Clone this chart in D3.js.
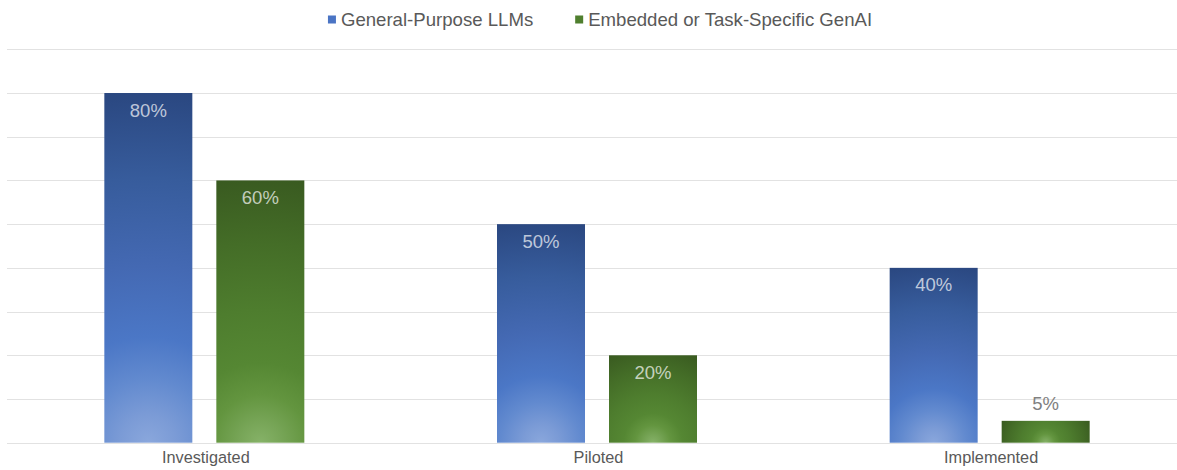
<!DOCTYPE html>
<html>
<head>
<meta charset="utf-8">
<script src="https://cdn.jsdelivr.net/npm/d3@7"></script>
<style>
  html, body { margin: 0; padding: 0; background: #ffffff; }
  svg { display: block; font-family: "Liberation Sans", Arial, sans-serif; }
</style>
</head>
<body>
<svg id="chart" width="1177" height="470"></svg>
<script>
// Adoption stage of each kind of generative AI
const categories = ["Investigated", "Piloted", "Implemented"];
const seriesNames = ["General-Purpose LLMs", "Embedded or Task-Specific GenAI"];
const generalPurpose = [80, 50, 40];
const embedded = [60, 20, 5];
const yTicks = [0, 10, 20, 30, 40, 50, 60, 70, 80, 90];

const seriesValues = [generalPurpose, embedded];
const rows = categories.map((c, i) => ({
  category: c,
  values: seriesNames.map((s, j) => ({ series: s, si: j, ci: i, value: seriesValues[j][i] }))
}));

const svg = d3.select("#chart");
const W = 1177, H = 470;
const plot = { left: 8, right: 1186, top: 49.3, bottom: 442.7 };

const x0 = d3.scaleBand().domain(categories).range([plot.left, plot.right]).padding(0);
const groupW = 200;
const x1 = d3.scaleBand().domain(seriesNames)
  .range([x0.bandwidth() / 2 - groupW / 2, x0.bandwidth() / 2 + groupW / 2])
  .paddingInner(24 / 112).paddingOuter(0);
const y = d3.scaleLinear().domain([0, 90]).range([plot.bottom, plot.top]);

// Radial fill: a circle from the bottom centre of each bar reaching its far corner.
// Coordinates are in each group's local space (bars are translated per category).
const palettes = [
  [[0, "#8aa7dc"], [0.08, "#7b9bd6"], [0.18, "#628acf"], [0.3, "#4b77c6"], [0.5, "#4469b3"], [0.75, "#375c9c"], [1, "#2a4780"]],
  [[0, "#86b268"], [0.08, "#77a557"], [0.18, "#63953f"], [0.3, "#558733"], [0.5, "#4e7d2e"], [0.75, "#446d27"], [1, "#395a20"]]
];
const legendColors = ["#4a74c4", "#4f7f2e"];
const defs = svg.append("defs");
rows.forEach(r => r.values.forEach(d => {
  const bx = x1(d.series);
  const w = x1.bandwidth();
  const h = y(0) - y(d.value);
  const g = defs.append("radialGradient")
    .attr("id", `grad-${d.si}-${d.ci}`)
    .attr("gradientUnits", "userSpaceOnUse")
    .attr("cx", bx + w / 2).attr("cy", y(0))
    .attr("fx", bx + w / 2).attr("fy", y(0))
    .attr("r", Math.hypot(w / 2, h));
  palettes[d.si].forEach(([o, c]) => g.append("stop").attr("offset", o).attr("stop-color", c));
}));

// Horizontal gridlines
svg.append("g")
  .selectAll("line")
  .data(yTicks)
  .join("line")
  .attr("x1", 7).attr("x2", W)
  .attr("y1", d => Math.round(y(d)) + 0.5)
  .attr("y2", d => Math.round(y(d)) + 0.5)
  .attr("stroke", "#e2e2e2")
  .attr("stroke-width", 1);

// Bars
const groups = svg.append("g")
  .selectAll("g")
  .data(rows)
  .join("g")
  .attr("transform", d => `translate(${x0(d.category)},0)`);

groups.selectAll("rect")
  .data(d => d.values)
  .join("rect")
  .attr("x", d => x1(d.series))
  .attr("y", d => y(d.value))
  .attr("width", x1.bandwidth())
  .attr("height", d => y(0) - y(d.value))
  .attr("fill", d => `url(#grad-${d.si}-${d.ci})`);

// Value labels: inside the top of tall bars, above short ones
groups.selectAll("text.value")
  .data(d => d.values)
  .join("text")
  .attr("class", "value")
  .attr("x", d => x1(d.series) + x1.bandwidth() / 2)
  .attr("y", d => (y(0) - y(d.value) > 40) ? y(d.value) + 23.5 : y(d.value) - 11)
  .attr("text-anchor", "middle")
  .attr("font-size", "18.5px")
  .attr("fill", d => (y(0) - y(d.value) > 40) ? "rgba(255,255,255,0.7)" : "#808080")
  .text(d => d.value + "%");

// Category axis labels
svg.append("g")
  .selectAll("text")
  .data(categories)
  .join("text")
  .attr("x", d => x0(d) + x0.bandwidth() / 2 + 1.5)
  .attr("y", 463)
  .attr("text-anchor", "middle")
  .attr("font-size", "16.3px")
  .attr("fill", "#595959")
  .text(d => d);

// Legend, centred above the plot
const legend = svg.append("g");
const items = legend.selectAll("g")
  .data(seriesNames)
  .join("g");
items.append("rect")
  .attr("width", 8).attr("height", 8)
  .attr("y", 15.5)
  .attr("fill", (d, i) => legendColors[i]);
items.append("text")
  .attr("x", 13)
  .attr("y", 25.5)
  .attr("font-size", "18.6px")
  .attr("fill", "#595959")
  .text(d => d);
let offset = 0;
const itemGap = 42;
items.each(function () {
  const g = d3.select(this);
  g.attr("transform", `translate(${offset},0)`);
  offset += 13 + g.select("text").node().getComputedTextLength() + itemGap;
});
const totalW = offset - itemGap;
legend.attr("transform", `translate(${600 - totalW / 2},0)`);
</script>
</body>
</html>
